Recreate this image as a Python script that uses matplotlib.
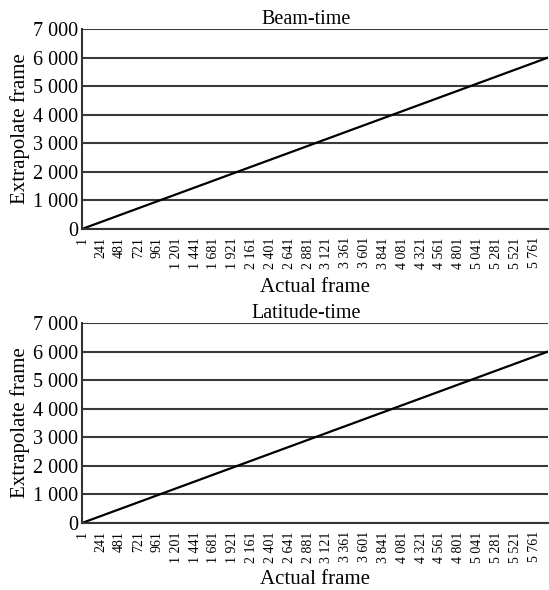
import matplotlib
matplotlib.use("Agg")
import matplotlib.pyplot as plt

plt.rcParams['font.family'] = ['Liberation Serif', 'DejaVu Serif']

# line data: actual frame vs extrapolated frame
actual_frame = [1, 5940]
extrapolated_frame = [0, 6000]

titles = ['Beam-time', 'Latitude-time']
x_ticks = list(range(1, 5762, 240))
y_ticks = [0, 1000, 2000, 3000, 4000, 5000, 6000, 7000]


def fmt(v):
    return f"{v:,}".replace(",", " ")


fig = plt.figure(figsize=(5.49, 5.90), dpi=100)
boxes = [[0.1494, 0.6119, 0.849, 0.339], [0.1494, 0.1136, 0.849, 0.339]]
xlabel_y = [1 - 287 / 590, 1 - 580 / 590]

for box, title, ly in zip(boxes, titles, xlabel_y):
    ax = fig.add_axes(box)
    ax.plot(actual_frame, extrapolated_frame, color='black', lw=1.6)
    ax.set_xlim(1, 5940)
    ax.set_ylim(0, 7000)
    ax.set_yticks(y_ticks)
    ax.set_yticklabels([fmt(v) for v in y_ticks], fontsize=14.5)
    ax.set_xticks(x_ticks)
    ax.set_xticklabels([fmt(v) for v in x_ticks], rotation=90, fontsize=10)
    ax.tick_params(axis='both', length=0)
    ax.tick_params(axis='y', pad=3)
    ax.tick_params(axis='x', pad=6)
    ax.grid(axis='y', color='#3a3a3a', lw=1.5)
    ax.set_axisbelow(True)
    for s in ['top', 'right']:
        ax.spines[s].set_visible(False)
    for s in ['left', 'bottom']:
        ax.spines[s].set_color('#333333')
        ax.spines[s].set_linewidth(1.5)
    ax.set_ylabel('Extrapolate frame', fontsize=15, labelpad=2)
    fig.text(box[0] + box[2] / 2, ly, 'Actual frame', fontsize=15,
             ha='center', va='center')
    ax.set_title(title, fontsize=14.5, pad=1, x=0.48)

fig.savefig('out.png', dpi=100)
